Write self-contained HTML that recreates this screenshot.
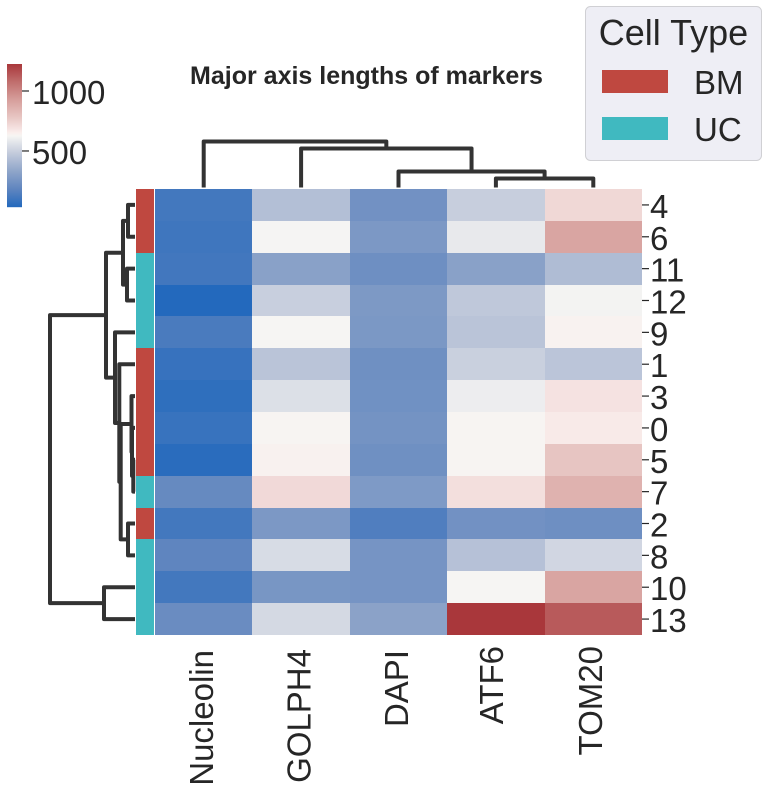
<!DOCTYPE html>
<html lang="en">
<head>
<meta charset="utf-8">
<title>Major axis lengths of markers</title>
<style>
  html, body { margin: 0; padding: 0; background: #fff; }
  body { width: 768px; height: 788px; overflow: hidden; }
  svg { display: block; font-family: "Liberation Sans", Arial, sans-serif; fill: #262626; }
</style>
</head>
<body>
<svg id="chart" xmlns="http://www.w3.org/2000/svg" width="768" height="788" viewBox="0 0 768 788">
  <g id="colorbar"></g>
  <g id="row-dendrogram" fill="none" stroke="#333333" stroke-width="4" stroke-linejoin="round"></g>
  <g id="col-dendrogram" fill="none" stroke="#333333" stroke-width="4" stroke-linejoin="round"></g>
  <g id="row-colors" shape-rendering="crispEdges"></g>
  <g id="heatmap" shape-rendering="crispEdges"></g>
  <g id="y-ticks"></g>

  <g font-size="33" text-anchor="end">
    <text transform="translate(213 650) rotate(-90)">Nucleolin</text>
    <text transform="translate(310.500 649) rotate(-90)">GOLPH4</text>
    <text transform="translate(408 650) rotate(-90)">DAPI</text>
    <text transform="translate(503 646) rotate(-90)">ATF6</text>
    <text transform="translate(602 646) rotate(-90)">TOM20</text>
  </g>

  <text x="366.500" y="84" font-size="25" font-weight="bold" text-anchor="middle">Major axis lengths of markers</text>

  <g>
    <rect x="585.500" y="6.500" width="176" height="154" rx="5" ry="5" fill="#eeeef5" stroke="#d0d0d4" stroke-width="1"></rect>
    <text x="673.500" y="45" font-size="36" text-anchor="middle">Cell Type</text>
    <rect x="602" y="70" width="66" height="23" fill="#bf4840"></rect>
    <text x="694" y="94" font-size="33">BM</text>
    <rect x="602" y="117" width="66" height="23" fill="#40b9c0"></rect>
    <text x="694" y="141" font-size="33">UC</text>
  </g>
</svg>
<script>
// ---- chart data ----
const rowLabels = ["4", "6", "11", "12", "9", "1", "3", "0", "5", "7", "2", "8", "10", "13"];
const colLabels = ["Nucleolin", "GOLPH4", "DAPI", "ATF6", "TOM20"];
const cellTypes = ["BM", "BM", "UC", "UC", "UC", "BM", "BM", "BM", "BM", "UC", "BM", "UC", "UC", "UC"];
const nucleolin = [113, 102, 110, 33, 130, 83, 63, 85, 51, 203, 113, 182, 113, 215];
const golph4 = [436, 623, 313, 498, 625, 456, 554, 629, 641, 717, 271, 540, 259, 531];
const dapi = [240, 271, 228, 275, 269, 231, 236, 248, 231, 279, 145, 254, 254, 319];
const atf6 = [494, 586, 313, 472, 456, 500, 600, 629, 629, 700, 240, 444, 625, 1225];
const tom20 = [721, 900, 424, 617, 636, 460, 689, 665, 784, 855, 228, 522, 900, 1130];
const colorbarTicks = [500, 1000];
// linkage merges: [left id, right id, distance]; ids below the leaf count are leaves
const rowLinkage = [[8, 9, 1.7], [7, 14, 3], [6, 15, 3.5], [10, 11, 7], [0, 1, 7], [2, 3, 8], [18, 19, 12], [16, 17, 14.3], [5, 21, 15.7], [4, 22, 20], [20, 23, 29], [12, 13, 31], [24, 25, 85]];
const colLinkage = [[3, 4, 9], [2, 5, 16], [1, 6, 39], [0, 7, 46]];

// ---- scales ----
const SVGNS = "http://www.w3.org/2000/svg";
const heatValues = [nucleolin, golph4, dapi, atf6, tom20];
const vMin = 33, vMax = 1225;
const plot = { left: 155, right: 642, top: 189, bottom: 635 };
const colEdge = i => Math.round(plot.left + i * (plot.right - plot.left) / colLabels.length);
const rowEdge = i => Math.round(plot.top + i * (plot.bottom - plot.top) / rowLabels.length);
const colCenter = i => plot.left + (i + 0.5) * (plot.right - plot.left) / colLabels.length;
const rowCenter = i => plot.top + (i + 0.5) * (plot.bottom - plot.top) / rowLabels.length;
const distToX = d => 135 - d;
const distToY = d => 187.5 - d;
const cbarBottom = 207, cbarTop = 64;
const cbarY = v => cbarBottom - (v - vMin) / (vMax - vMin) * (cbarBottom - cbarTop);
const typeColor = { BM: "#bf4840", UC: "#40b9c0" };

const rampStops = [
  [0, 35, 105, 189], [0.125, 95, 133, 191], [0.25, 143, 165, 201], [0.375, 194, 202, 219],
  [0.497, 246, 245, 243], [0.52, 250, 238, 236], [0.55, 245, 226, 225], [0.625, 232, 199, 196],
  [0.75, 214, 158, 155], [0.875, 192, 110, 109], [1, 169, 55, 59]
];
function colormap(v) {
  const t = Math.max(0, Math.min(1, (v - vMin) / (vMax - vMin)));
  let i = 0;
  while (i < rampStops.length - 2 && t > rampStops[i + 1][0]) i++;
  const a = rampStops[i], b = rampStops[i + 1];
  const f = (t - a[0]) / (b[0] - a[0]);
  const c = [1, 2, 3].map(k => Math.round(a[k] + (b[k] - a[k]) * f));
  return "rgb(" + c.join(",") + ")";
}

// ---- heatmap cells ----
const heatmapGroup = document.getElementById("heatmap");
heatValues.forEach((series, c) => {
  series.forEach((value, r) => {
    const cell = document.createElementNS(SVGNS, "rect");
    
    
    cell.setAttribute("x", colEdge(c));
    cell.setAttribute("y", rowEdge(r));
    cell.setAttribute("width", colEdge(c + 1) - colEdge(c));
    cell.setAttribute("height", rowEdge(r + 1) - rowEdge(r));
    cell.setAttribute("fill", colormap(value));
    heatmapGroup.appendChild(cell);
  });
});

// ---- row colour strip ----
const rowColorGroup = document.getElementById("row-colors");
cellTypes.forEach((type, r) => {
  const strip = document.createElementNS(SVGNS, "rect");
  
  
  strip.setAttribute("x", 136);
  strip.setAttribute("y", rowEdge(r));
  strip.setAttribute("width", 18);
  strip.setAttribute("height", rowEdge(r + 1) - rowEdge(r));
  strip.setAttribute("fill", typeColor[type]);
  rowColorGroup.appendChild(strip);
});

// ---- y ticks and labels ----
const yTickGroup = document.getElementById("y-ticks");
rowLabels.forEach((label, r) => {
  const tick = document.createElementNS(SVGNS, "line");
  
  
  tick.setAttribute("x1", plot.right);
  tick.setAttribute("x2", plot.right + 7);
  tick.setAttribute("y1", rowCenter(r));
  tick.setAttribute("y2", rowCenter(r));
  tick.setAttribute("stroke", "#262626");
  tick.setAttribute("stroke-width", "1.2");
  yTickGroup.appendChild(tick);
  const text = document.createElementNS(SVGNS, "text");
  
  
  text.setAttribute("x", plot.right + 8);
  text.setAttribute("y", rowCenter(r) + 13);
  text.setAttribute("font-size", "33");
  text.textContent = label;
  yTickGroup.appendChild(text);
});

// ---- dendrograms ----
function drawDendrogram(linkage, leafCount, leafPos, distPos, group, name, horizontal) {
  const nodes = [];
  for (let i = 0; i < leafCount; i++) nodes.push({ pos: leafPos(i), dist: 0 });
  linkage.forEach(merge => {
    const a = nodes[merge[0]], b = nodes[merge[1]], d = merge[2];
    const pts = [[a.pos, a.dist], [a.pos, d], [b.pos, d], [b.pos, b.dist]];
    const path = document.createElementNS(SVGNS, "polyline");
    
    
    path.setAttribute("points", pts.map(p => horizontal ? distPos(p[1]) + "," + p[0] : p[0] + "," + distPos(p[1])).join(" "));
    group.appendChild(path);
    nodes.push({ pos: (a.pos + b.pos) / 2, dist: d });
  });
}
drawDendrogram(rowLinkage, rowLabels.length, rowCenter, distToX, document.getElementById("row-dendrogram"), "row-dendrogram-link", true);
drawDendrogram(colLinkage, colLabels.length, colCenter, distToY, document.getElementById("col-dendrogram"), "column-dendrogram-link", false);

// ---- colorbar ----
const colorbarGroup = document.getElementById("colorbar");
for (let y = cbarTop; y < cbarBottom; y++) {
  const band = document.createElementNS(SVGNS, "rect");
  
  
  band.setAttribute("x", 7);
  band.setAttribute("y", y);
  band.setAttribute("width", 15);
  band.setAttribute("height", 1.2);
  band.setAttribute("fill", colormap(vMax - (y + 0.5 - cbarTop) / (cbarBottom - cbarTop) * (vMax - vMin)));
  colorbarGroup.appendChild(band);
}
colorbarTicks.forEach(value => {
  const tick = document.createElementNS(SVGNS, "line");
  
  
  tick.setAttribute("x1", 22);
  tick.setAttribute("x2", 29);
  tick.setAttribute("y1", cbarY(value));
  tick.setAttribute("y2", cbarY(value));
  tick.setAttribute("stroke", "#262626");
  tick.setAttribute("stroke-width", "1.2");
  colorbarGroup.appendChild(tick);
  const text = document.createElementNS(SVGNS, "text");
  
  
  text.setAttribute("x", 32);
  text.setAttribute("y", cbarY(value) + 13);
  text.setAttribute("font-size", "33");
  text.textContent = value;
  colorbarGroup.appendChild(text);
});
</script>
</body>
</html>
